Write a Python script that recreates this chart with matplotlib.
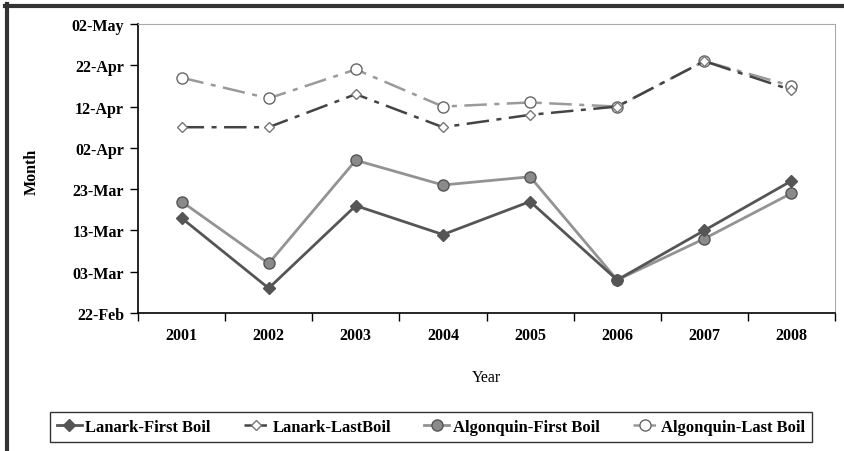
import pandas as pd
import matplotlib
matplotlib.use("Agg")
import matplotlib.pyplot as plt
from matplotlib.lines import Line2D

plt.rcParams['font.family'] = ['Liberation Serif', 'DejaVu Serif']
plt.rcParams['font.weight'] = 'bold'

# data
years = ['2001', '2002', '2003', '2004', '2005', '2006', '2007', '2008']
lanark_first = ['16-Mar', '28-Feb', '19-Mar', '12-Mar', '20-Mar', '01-Mar', '13-Mar', '25-Mar']
lanark_last = ['07-Apr', '07-Apr', '15-Apr', '07-Apr', '10-Apr', '12-Apr', '23-Apr', '16-Apr']
algonquin_first = ['20-Mar', '05-Mar', '30-Mar', '24-Mar', '26-Mar', '01-Mar', '11-Mar', '22-Mar']
algonquin_last = ['19-Apr', '14-Apr', '21-Apr', '12-Apr', '13-Apr', '12-Apr', '23-Apr', '17-Apr']
y_ticks = ['22-Feb', '03-Mar', '13-Mar', '23-Mar', '02-Apr', '12-Apr', '22-Apr', '02-May']

base = pd.Timestamp('2000-02-22')


def to_days(labels):
    d = pd.to_datetime([s + '-2000' for s in labels], format='%d-%b-%Y')
    return [(x - base).days for x in d]


fig = plt.figure(figsize=(8.44, 4.52), dpi=100)
ax = fig.add_axes([138 / 844, 1 - 314 / 452, 697 / 844, 289 / 452])

x = list(range(len(years)))
dd = (9, 3, 2, 3)

ax.plot(x, to_days(lanark_first), color='#555555', lw=2, marker='D', ms=6,
        mfc='#555555', mec='#555555', label='Lanark-First Boil', zorder=4)
ax.plot(x, to_days(lanark_last), color='#444444', lw=1.8, dashes=dd, marker='D', ms=5,
        mfc='white', mec='#777777', mew=1, label='Lanark-LastBoil', zorder=3)
ax.plot(x, to_days(algonquin_first), color='#939393', lw=2, marker='o', ms=8,
        mfc='#8a8a8a', mec='#555555', mew=1, label='Algonquin-First Boil', zorder=3)
ax.plot(x, to_days(algonquin_last), color='#9a9a9a', lw=1.8, dashes=dd, marker='o', ms=8,
        mfc='white', mec='#666666', mew=1, label='Algonquin-Last Boil', zorder=2)

ax.set_xlim(-0.5, len(years) - 0.5)
ax.set_ylim(0, 70)
ax.set_yticks(to_days(y_ticks))
ax.set_yticklabels(y_ticks, fontsize=11.5)
ax.set_xticks(x)
ax.set_xticklabels(years, fontsize=11.5)
ax.set_xticks([i - 0.5 for i in range(len(years) + 1)], minor=True)
ax.tick_params(axis='x', which='major', length=0, pad=10)
ax.tick_params(axis='x', which='minor', length=6, direction='out', width=1)
ax.tick_params(axis='y', length=6, direction='out', width=1, pad=4)

for s in ['top', 'right']:
    ax.spines[s].set_color('#aaaaaa')
for s in ['left', 'bottom']:
    ax.spines[s].set_color('black')
    ax.spines[s].set_linewidth(1.2)

ax.set_xlabel('Year', fontsize=11.5, labelpad=19)
fig.text(32 / 844, 1 - 172 / 452, 'Month', rotation=90, fontsize=11.5,
         ha='center', va='center')

leg = fig.legend(loc='center', bbox_to_anchor=(431 / 844, 1 - 428 / 452), ncol=4,
                 fontsize=12, frameon=True, fancybox=False, edgecolor='black',
                 handlelength=1.5, columnspacing=2.0, borderpad=0.4, handletextpad=0.2)
leg.get_frame().set_linewidth(1)

# outer frame (top and left edges)
fig.add_artist(Line2D([5 / 844, 1], [1 - 7 / 452, 1 - 7 / 452], color='#333333', lw=3))
fig.add_artist(Line2D([7 / 844, 7 / 844], [0, 1 - 5 / 452], color='#333333', lw=3))

fig.savefig('out.png', dpi=100)
